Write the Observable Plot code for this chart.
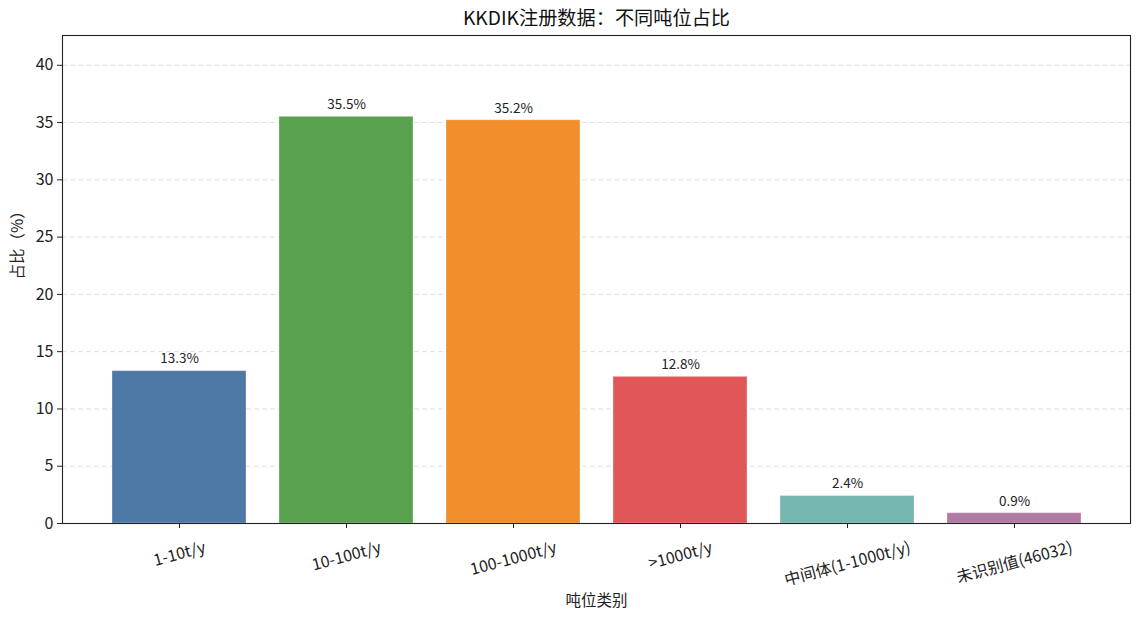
<!DOCTYPE html>
<html>
<head>
<meta charset="utf-8">
<script src="https://cdn.jsdelivr.net/npm/d3@7"></script>
<script src="https://cdn.jsdelivr.net/npm/@observablehq/plot@0.6"></script>
<style>
  html, body { margin: 0; padding: 0; background: #fff; }
  #chart { width: 1137px; height: 618px; }
  svg { font-family: "Noto Sans CJK SC", "Noto Sans", sans-serif; }
</style>
</head>
<body>
<div id="chart"></div>
<script>
const categories = ["1-10t/y", "10-100t/y", "100-1000t/y", ">1000t/y", "中间体(1-1000t/y)", "未识别值(46032)"];
const values = [13.3, 35.5, 35.2, 12.8, 2.4, 0.9];
const colors = ["#4e79a7", "#59a14f", "#f28e2b", "#e15759", "#76b7b2", "#b07aa1"];
const yTicks = [0, 5, 10, 15, 20, 25, 30, 35, 40];
const title = "KKDIK注册数据：不同吨位占比";
const xLabel = "吨位类别";
const yLabel = "占比（%）";

const data = categories.map((c, i) => ({category: c, value: values[i], color: colors[i]}));

const W = 1137, H = 618;
const mL = 62, mR = 7, mT = 35, mB = 95;
const fontFamily = '"Noto Sans CJK SC", "Noto Sans", sans-serif';
const tickFont = 16;

// measure tick label widths to place rotated labels like matplotlib (bbox top aligned)
const ctx = document.createElement("canvas").getContext("2d");
ctx.font = `${tickFont}px ${fontFamily}`;
const ang = 15 * Math.PI / 180;
const labelMarks = categories.map((c) => {
  const w = ctx.measureText(c).width;
  const h = tickFont * 1.0;
  const half = (w * Math.sin(ang) + h * Math.cos(ang)) / 2;
  return Plot.text([c], {
    x: d => d,
    frameAnchor: "bottom",
    text: d => d,
    rotate: -15,
    textAnchor: "middle",
    lineAnchor: "middle",
    dy: 16 + half,
    fontSize: tickFont,
    fill: "#222"
  });
});

const chart = Plot.plot({
  width: W,
  height: H,
  marginLeft: mL,
  marginRight: mR,
  marginTop: mT,
  marginBottom: mB,
  style: {fontFamily, background: "#fff", overflow: "visible"},
  x: {domain: categories, paddingInner: 0.2, paddingOuter: 0.29, align: 0.5, axis: null},
  y: {domain: [0, 42.6], axis: null},
  marks: [
    Plot.gridY(yTicks.filter(t => t > 0), {stroke: "#b0b0b0", strokeOpacity: 0.45, strokeDasharray: "5,3", strokeWidth: 0.9}),
    Plot.barY(data, {x: "category", y: "value", fill: "color", fillOpacity: 1, stroke: "white", strokeOpacity: 0.3, strokeWidth: 1}),
    Plot.text(data, {x: "category", y: "value", text: d => d.value.toFixed(1) + "%", dy: -12, fontSize: 13.5, fill: "#222", lineAnchor: "middle"}),
    Plot.frame({stroke: "#222", strokeWidth: 1.1}),
    Plot.axisX({ticks: categories, tickSize: 5, tickFormat: () => "", label: null, stroke: "#222"}),
    Plot.axisY({ticks: yTicks, tickSize: 5, tickPadding: 4, fontSize: tickFont, label: null, color: "#222"}),
    ...labelMarks,
    Plot.text([xLabel], {frameAnchor: "bottom", text: d => d, dy: 78, fontSize: 15.5, fill: "#222", lineAnchor: "middle"}),
    Plot.text([yLabel], {frameAnchor: "left", text: d => d, dx: -44, rotate: -90, fontSize: 15.5, fill: "#222", lineAnchor: "middle"}),
    Plot.text([title], {frameAnchor: "top", text: d => d, dy: -17, fontSize: 19.2, fill: "#111", lineAnchor: "middle"})
  ]
});
document.getElementById("chart").appendChild(chart);
</script>
</body>
</html>
